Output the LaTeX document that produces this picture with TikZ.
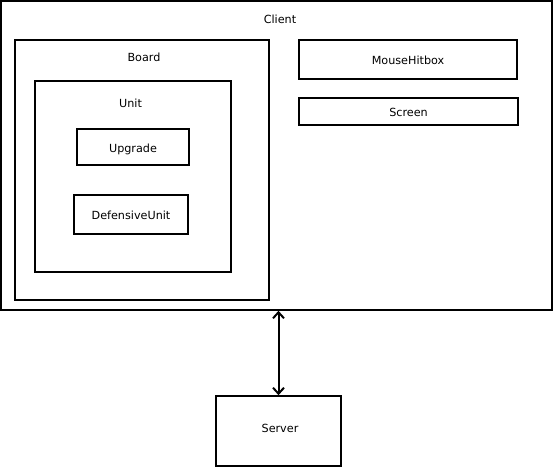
\documentclass[tikz,border=0pt]{standalone}
\usepackage{fontspec}
\setmainfont{DejaVu Sans}
\usetikzlibrary{arrows.meta}
\begin{document}
\begin{tikzpicture}[x=1pt,y=-1pt,
  box/.style={draw=black, line width=1.6pt, rectangle, inner sep=0pt, font=\fontsize{11.2}{12}\selectfont, text height=11pt, text depth=0.5pt},
  lbl/.style={inner sep=0pt, font=\fontsize{11.2}{12}\selectfont, text height=11pt, text depth=0.5pt},
  link/.style={line width=2pt, {Straight Barb[length=6pt,width=11pt]}-{Straight Barb[length=6pt,width=11pt]}}]
\useasboundingbox (0,0) rectangle (554,468);
\node[box, minimum width=551pt, minimum height=309pt] (client) at (276.5,155.5) {};
\node[lbl] (clientl) at (280,18) {Client};
\node[box, minimum width=254pt, minimum height=260pt] (board) at (142,170) {};
\node[lbl] (boardl) at (144,56) {Board};
\node[box, minimum width=196pt, minimum height=191pt] (unit) at (133,176.5) {};
\node[lbl] (unitl) at (130.5,102) {Unit};
\node[box, minimum width=112pt, minimum height=36pt] (upgrade) at (133,147) {Upgrade};
\node[box, minimum width=114pt, minimum height=39pt] (defunit) at (131,214.5) {DefensiveUnit};
\node[box, minimum width=218pt, minimum height=39pt] (mouse) at (408,59.5) {MouseHitbox};
\node[box, minimum width=219pt, minimum height=27pt] (screen) at (408.5,111.5) {Screen};
\node[box, minimum width=125pt, minimum height=70pt] (server) at (278.5,431) {};
\node[lbl] (serverl) at (280,427) {Server};
\draw[link] (server.north) -- (server.north |- client.south);
\end{tikzpicture}
\end{document}
